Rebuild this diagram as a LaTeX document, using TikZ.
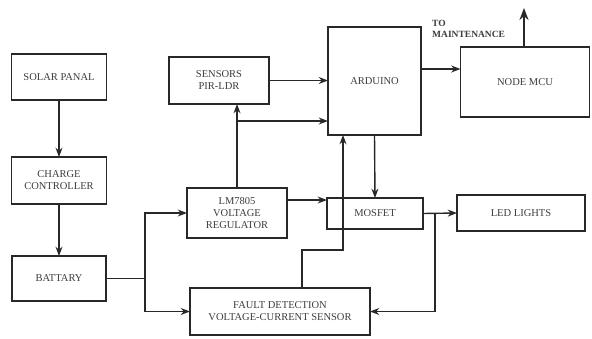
\documentclass[tikz,border=0pt]{standalone}
\usepackage{fontspec}
\setmainfont{Liberation Serif}
\usepackage{tikz}
\usetikzlibrary{arrows.meta, positioning, calc}
\definecolor{lineblk}{RGB}{40,40,40}
\definecolor{txtgray}{RGB}{60,60,60}
\tikzset{
  blockbox/.style={rectangle,draw=lineblk,line width=1.4pt,align=center,text=txtgray,
    font=\fontsize{10.5}{12}\selectfont,inner sep=2pt,outer sep=0pt},
  arr/.style={->,>=Stealth,line width=1.4pt,color=lineblk},
  plainline/.style={line width=1.4pt,color=lineblk},
  thickarr/.style={->,>=Stealth,line width=2pt,color=lineblk}
}

\begin{document}
\begin{tikzpicture}[x=1pt,y=-1pt]
  \useasboundingbox (0,0) rectangle (592,338);

  %% left column
  \node[blockbox,minimum width=95pt,minimum height=46pt] at (59,77) (solar) {SOLAR PANAL};
  \node[blockbox,minimum width=95pt,minimum height=47pt,below=57pt of solar] (charge)
    {CHARGE\\CONTROLLER};
  \node[blockbox,minimum width=94pt,minimum height=45pt,below=52pt of charge] (battary)
    {BATTARY};

  %% middle
  \node[blockbox,minimum width=100pt,minimum height=47pt] at (219,80.5) (sensors)
    {SENSORS\\PIR-LDR};
  \node[blockbox,minimum width=100pt,minimum height=50pt] at (237,213) (lm)
    {LM7805\\VOLTAGE\\REGULATOR};
  \node[blockbox,minimum width=180pt,minimum height=47pt] at (280,311.5) (fault)
    {FAULT DETECTION\\VOLTAGE-CURRENT SENSOR};

  %% right
  \node[blockbox,minimum width=93pt,minimum height=108pt] at (374.5,81) (arduino) {ARDUINO};
  \node[blockbox,minimum width=96pt,minimum height=31pt] at (375,213.5) (mosfet) {MOSFET};
  \node[blockbox,minimum width=129pt,minimum height=70pt] at (525,82) (nodemcu) {NODE MCU};
  \node[blockbox,minimum width=128pt,minimum height=36pt] at (521,213) (led) {LED LIGHTS};
  \node[anchor=west,align=left,text=txtgray,font=\fontsize{9.5}{11.5}\selectfont\bfseries,
        inner sep=0pt] at (432,29) (maintlbl) {TO\\MAINTENANCE};

  %% junctions
  \coordinate (split) at (battary.east -| 145,0);
  \coordinate (tap) at (237,121);
  \coordinate (fb) at (343,250);
  \coordinate (tap2) at (435,213.5);
  \coordinate (maint) at (524,8);

  %% arrows
  \draw[arr] (solar.south) -- (charge.north);
  \draw[arr] (charge.south) -- (battary.north);
  \draw[plainline] (battary.east) -- (split);
  \draw[arr] (split) |- (lm.west);
  \draw[arr] (split) |- (fault.west);
  \draw[arr] (lm.north) -- (lm.north |- sensors.south);
  \draw[arr] (tap) -- (tap -| arduino.west);
  \draw[arr] (sensors.east) -- (sensors.east -| arduino.west);
  \draw[arr] (arduino.east |- 0,69) -- (nodemcu.west |- 0,69);
  \draw[thickarr] (nodemcu.north -| maint) -- (maint);
  \draw[arr] (arduino.south) -- (mosfet.north);
  \draw[arr] ($(fault.north)+(22,0)$) |- (fb) -- (fb |- arduino.south);
  \draw[arr] (lm.east |- 0,200) -- (mosfet.west |- 0,200);
  \draw[arr] (mosfet.east) -- (led.west);
  \draw[arr] (tap2) |- (fault.east);
\end{tikzpicture}
\end{document}
